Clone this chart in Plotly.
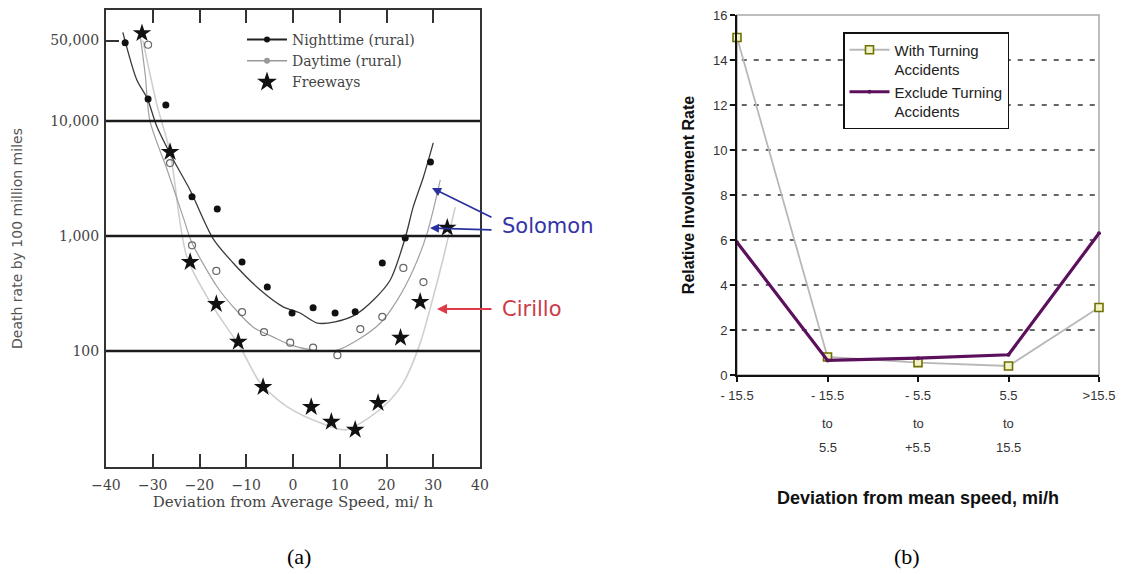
import plotly.graph_objects as go

# ---------------- Panel (a) data ----------------
night_x = [-35.9, -31.0, -27.2, -21.6, -16.2, -10.9, -5.5, -0.2, 4.3, 9.0, 13.3, 19.1, 24.0, 29.4]
night_y = [48000, 15500, 13800, 2190, 1720, 594, 360, 214, 237, 214, 219, 582, 960, 4400]

day_x = [-31.0, -26.3, -21.6, -16.4, -10.9, -6.2, -0.6, 4.3, 9.5, 14.4, 19.1, 23.6, 27.9]
day_y = [46000, 4300, 830, 497, 218, 146, 118, 107, 92, 155, 198, 527, 397]

free_x = [-32.3, -26.3, -22.0, -16.4, -11.7, -6.4, 3.9, 8.2, 13.3, 18.2, 23.0, 27.2, 33.0]
free_y = [58000, 5370, 594, 256, 120, 48.6, 32.6, 24.2, 20.6, 35.3, 130, 267, 1180]

# fitted curves
night_curve_x = [-36.4, -33.4, -31.2, -29.1, -25.6, -22.0, -17.1, -12.8, -7.0, -2.1, 1.5, 5.2, 9.0, 13.3, 17.2, 20.8, 24.0, 25.7, 27.9, 30.0]
night_curve_y = [59000, 22700, 15800, 8900, 4600, 2500, 950, 582, 339, 242, 214, 175, 179, 206, 277, 414, 962, 1780, 3260, 6450]

day_curve_x = [-32.7, -31.6, -30.6, -26.9, -23.5, -21.6, -16.2, -12.8, -8.5, -4.2, -0.6, 4.3, 9.5, 14.4, 18.7, 22.3, 25.7, 28.7, 31.5]
day_curve_y = [56000, 25000, 10000, 3750, 1460, 870, 360, 242, 161, 132, 113, 102, 102, 129, 175, 277, 506, 1060, 3070]

free_curve_x = [-32.1, -29.1, -26.3, -22.7, -17.1, -11.3, -7.0, -1.2, 5.8, 11.2, 16.5, 20.8, 23.6, 27.2, 30.0, 32.2, 34.7]
free_curve_y = [50000, 13800, 5370, 656, 242, 108, 52.7, 32.6, 23.7, 20.6, 26.7, 37.5, 52.7, 117, 295, 656, 1780]

a_xticks = [-40, -30, -20, -10, 0, 10, 20, 30, 40]
a_yticks = [100, 1000, 10000, 50000]
a_yticklabels = ["100", "1,000", "10,000", "50,000"]
a_grid_levels = [100, 1000, 10000]

# ---------------- Panel (b) data ----------------
b_categories = [0, 1, 2, 3, 4]
b_tick_line1 = ["- 15.5", "- 15.5", "- 5.5", "5.5", ">15.5"]
b_tick_line2 = ["", "to", "to", "to", ""]
b_tick_line3 = ["", "5.5", "+5.5", "15.5", ""]
with_turning = [15.0, 0.8, 0.55, 0.4, 3.0]
exclude_turning = [5.9, 0.65, 0.75, 0.9, 6.3]
b_yticks = [0, 2, 4, 6, 8, 10, 12, 14, 16]
b_grid_levels = [2, 4, 6, 8, 10, 12, 14]

# page body has an 8px margin: the figure is drawn 8px in from the window corner
OFF = 8
W, H = 1128 - OFF, 574 - OFF
def px(x):
    return (x - OFF) / W
def py(y):
    return 1 - (y - OFF) / H

SERIF = "DejaVu Serif"
SANS = "Liberation Sans"

fig = go.Figure()

# ---- panel (a) curves ----
fig.add_trace(go.Scatter(x=free_curve_x, y=free_curve_y, mode="lines", line=dict(color="#cfcfcf", width=1.6, shape="spline", smoothing=0.8),
                         showlegend=False, xaxis="x", yaxis="y"))
fig.add_trace(go.Scatter(x=day_curve_x, y=day_curve_y, mode="lines", line=dict(color="#a0a0a0", width=1.2, shape="spline", smoothing=0.8),
                         showlegend=False, xaxis="x", yaxis="y"))
fig.add_trace(go.Scatter(x=night_curve_x, y=night_curve_y, mode="lines", line=dict(color="#3a3a3a", width=1.3, shape="spline", smoothing=0.8),
                         showlegend=False, xaxis="x", yaxis="y"))
# ---- panel (a) points ----
fig.add_trace(go.Scatter(x=night_x, y=night_y, mode="markers", marker=dict(symbol="circle", size=7, color="#111"),
                         showlegend=False, xaxis="x", yaxis="y"))
fig.add_trace(go.Scatter(x=day_x, y=day_y, mode="markers",
                         marker=dict(symbol="circle-open", size=7, color="#666", line=dict(width=1.2)),
                         showlegend=False, xaxis="x", yaxis="y"))
fig.add_trace(go.Scatter(x=free_x, y=free_y, mode="markers", marker=dict(symbol="star", size=14, color="#111"),
                         showlegend=False, xaxis="x", yaxis="y"))
# ---- panel (a) legend entries ----
fig.add_trace(go.Scatter(x=[None], y=[None], mode="lines+markers", name="Nighttime (rural)",
                         line=dict(color="#222", width=2), marker=dict(symbol="circle", size=6, color="#111"),
                         legend="legend", xaxis="x", yaxis="y"))
fig.add_trace(go.Scatter(x=[None], y=[None], mode="lines+markers", name="Daytime (rural)",
                         line=dict(color="#999", width=1.5), marker=dict(symbol="circle", size=6, color="#999"),
                         legend="legend", xaxis="x", yaxis="y"))
fig.add_trace(go.Scatter(x=[None], y=[None], mode="markers", name="Freeways",
                         marker=dict(symbol="star", size=15, color="#111"),
                         legend="legend", xaxis="x", yaxis="y"))

# ---- panel (b) ----
fig.add_trace(go.Scatter(x=b_categories, y=with_turning, mode="lines+markers", name="With Turning<br>Accidents",
                         line=dict(color="#b8b8b8", width=1.8),
                         marker=dict(symbol="square", size=8, color="#f2f2c8", line=dict(color="#6e7000", width=1.6)),
                         legend="legend2", xaxis="x2", yaxis="y2", cliponaxis=False))
fig.add_trace(go.Scatter(x=b_categories, y=exclude_turning, mode="lines+markers", name="Exclude Turning<br>Accidents",
                         line=dict(color="#5c105c", width=3.2),
                         marker=dict(symbol="circle", size=4, color="#5c105c"),
                         legend="legend2", xaxis="x2", yaxis="y2", cliponaxis=False))

shapes = []
for g in a_grid_levels:
    shapes.append(dict(type="line", xref="x domain", yref="y", x0=0, x1=1, y0=g, y1=g,
                       line=dict(color="#1a1a1a", width=2.6), layer="above"))
shapes.append(dict(type="rect", xref="x2 domain", yref="y2 domain", x0=0, x1=1, y0=0, y1=1,
                   line=dict(color="#a8a8a8", width=1.5), layer="below"))
for g in b_grid_levels:
    shapes.append(dict(type="line", xref="x2 domain", yref="y2", x0=-0.02, x1=1, y0=g, y1=g,
                       line=dict(color="#333", width=1.6, dash="5px,7px"), layer="below"))

annotations = []
# Solomon / Cirillo
annotations.append(dict(xref="paper", yref="paper", x=px(432), y=py(188), text="", showarrow=True,
                        ax=61, ay=30, arrowhead=2, arrowsize=1, arrowwidth=1.8, arrowcolor="#2a32a0"))
annotations.append(dict(xref="paper", yref="paper", x=px(430), y=py(228), text="", showarrow=True,
                        ax=63, ay=2, arrowhead=2, arrowsize=1, arrowwidth=1.8, arrowcolor="#2a32a0"))
annotations.append(dict(xref="paper", yref="paper", x=px(437), y=py(309), text="", showarrow=True,
                        ax=56, ay=0, arrowhead=2, arrowsize=1, arrowwidth=2, arrowcolor="#e03a48"))
annotations.append(dict(xref="paper", yref="paper", x=px(500), y=py(226), text="Solomon", showarrow=False,
                        xanchor="left", yanchor="middle", font=dict(family="DejaVu Sans", size=21, color="#3434a8")))
annotations.append(dict(xref="paper", yref="paper", x=px(500), y=py(309), text="Cirillo", showarrow=False,
                        xanchor="left", yanchor="middle", font=dict(family="DejaVu Sans", size=21, color="#cc3a48")))
# panel (b) multi-line tick labels (lines 2 and 3)
for c, l2, l3 in zip(b_categories, b_tick_line2, b_tick_line3):
    if l2:
        annotations.append(dict(xref="x2", yref="paper", x=c, y=py(423), text=l2, showarrow=False,
                                font=dict(family=SANS, size=13, color="#333"), yanchor="middle"))
    if l3:
        annotations.append(dict(xref="x2", yref="paper", x=c, y=py(447), text=l3, showarrow=False,
                                font=dict(family=SANS, size=13, color="#333"), yanchor="middle"))
# captions
annotations.append(dict(xref="paper", yref="paper", x=px(285), y=py(556), text="(a)", showarrow=False,
                        font=dict(family="Liberation Serif", size=22, color="#000"), yanchor="middle"))
annotations.append(dict(xref="paper", yref="paper", x=px(922), y=py(556), text="(b)", showarrow=False,
                        font=dict(family="Liberation Serif", size=22, color="#000"), yanchor="middle"))

fig.update_layout(
    width=W, height=H,
    margin=dict(l=0, r=0, t=0, b=0, autoexpand=False),
    paper_bgcolor="white", plot_bgcolor="white",
    shapes=shapes, annotations=annotations,
    xaxis=dict(domain=[px(106), px(480)], range=[-40, 40], tickvals=a_xticks, automargin=False,
               ticks="inside", ticklen=13, tickwidth=1.5, tickcolor="#333",
               showline=True, linecolor="#333", linewidth=2, mirror="ticks", showgrid=False, zeroline=False,
               tickfont=dict(family=SERIF, size=14, color="#444"), ticklabelstandoff=4,
               title=dict(text="Deviation from Average Speed, mi/ h", font=dict(family=SERIF, size=15, color="#444"), standoff=4),
               anchor="y"),
    yaxis=dict(domain=[py(467), py(10)], type="log", range=[0.991, 4.965], tickvals=a_yticks, ticktext=a_yticklabels,
               automargin=False, ticklabeloverflow="allow",
               ticks="inside", ticklen=13, tickwidth=1.5, tickcolor="#333",
               showline=True, linecolor="#333", linewidth=2, mirror=True, showgrid=False, zeroline=False,
               tickfont=dict(family=SERIF, size=14, color="#444"), ticklabelstandoff=2,
               title=dict(text="Death rate by 100 million miles", font=dict(family="DejaVu Sans", size=14, color="#555"), standoff=24),
               anchor="x"),
    xaxis2=dict(domain=[px(737), px(1099)], range=[0, 4], tickvals=b_categories, ticktext=b_tick_line1,
                automargin=False, ticklabeloverflow="allow",
                ticks="outside", ticklen=5, tickwidth=1.5, tickcolor="#111",
                showline=True, linecolor="#111", linewidth=2, showgrid=False, zeroline=False,
                tickfont=dict(family=SANS, size=13, color="#333"), ticklabelstandoff=2,
                title=dict(text="<b>Deviation from mean speed, mi/h</b>", font=dict(family=SANS, size=18, color="#111"), standoff=90),
                anchor="y2"),
    yaxis2=dict(domain=[py(375), py(15)], range=[0, 16], tickvals=b_yticks, automargin=False,
                ticklabeloverflow="allow",
                ticks="outside", ticklen=5, tickwidth=1.5, tickcolor="#111",
                showline=True, linecolor="#111", linewidth=2, showgrid=False, zeroline=False,
                tickfont=dict(family=SANS, size=13, color="#333"),
                title=dict(text="<b>Relative Involvement Rate</b>", font=dict(family=SANS, size=16, color="#111"), standoff=14),
                anchor="x2"),
    legend=dict(x=px(242), y=py(24), xanchor="left", yanchor="top", bgcolor="rgba(0,0,0,0)",
                font=dict(family=SERIF, size=14, color="#444"), itemwidth=40, tracegroupgap=0,
                borderwidth=0),
    legend2=dict(x=px(843), y=py(32), xanchor="left", yanchor="top", bgcolor="white",
                 bordercolor="#111", borderwidth=1.5, valign="top",
                 font=dict(family=SANS, size=15, color="#222"), itemwidth=40, tracegroupgap=6),
)

fig.write_html("out.html")
